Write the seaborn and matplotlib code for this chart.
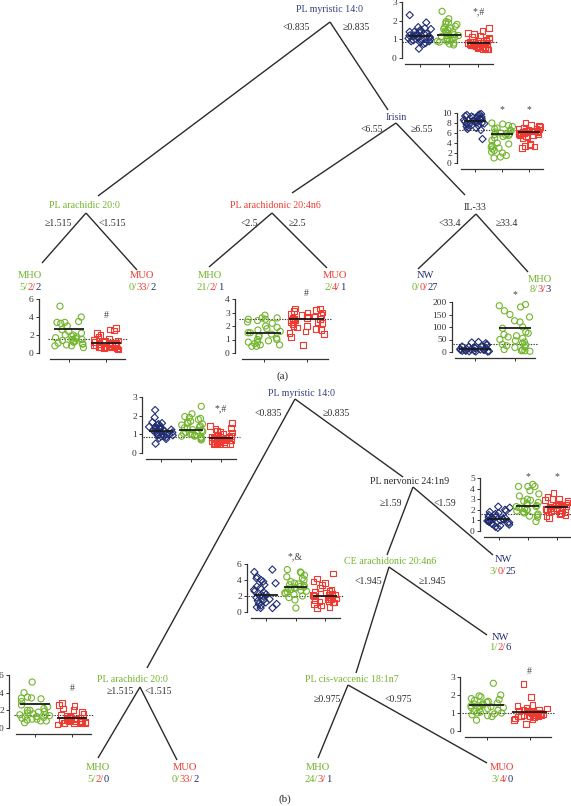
import matplotlib
matplotlib.use("Agg")
import matplotlib.pyplot as plt
import seaborn as sns
import numpy as np
import pandas as pd

sns.set_style("white")
plt.rcParams['font.family'] = ['Liberation Serif', 'DejaVu Serif']

W, H = 571, 806
NAVY = '#1f2c72'
NAVY_TXT = '#33407f'
VERDE = '#72b52c'
VERM = '#ef3a32'
CINZA = '#2b2b2b'

COR = {'NW': NAVY, 'MHO': VERDE, 'MUO': VERM}
MARCA = {'NW': 'D', 'MHO': 'o', 'MUO': 's'}
TAM = {'NW': 3.7, 'MHO': 4.4, 'MUO': 4.1}

# ---- dados dos gráficos de dispersão ----
myr_nw = [2.3, 1.9, 1.65, 1.6, 1.55, 1.5, 1.45, 1.4, 1.4, 1.35, 1.3, 1.3, 1.25, 1.2, 1.2, 1.15, 1.15,
          1.1, 1.1, 1.05, 1.0, 1.0, 0.95, 0.95, 0.9, 0.9, 0.85, 0.8, 0.75, 0.5]
myr_mho = [2.5, 2.1, 1.95, 1.9, 1.85, 1.8, 1.7, 1.65, 1.6, 1.55, 1.5, 1.45, 1.4, 1.35, 1.3, 1.25, 1.2,
           1.2, 1.15, 1.1, 1.05, 1.0, 1.0, 0.95, 0.9, 0.9, 0.85, 0.8, 0.75, 0.7]
myr_muo = [1.6, 1.45, 1.35, 1.3, 1.2, 1.15, 1.1, 1.0, 0.95, 0.9, 0.9, 0.85, 0.85, 0.8, 0.8, 0.8, 0.75,
           0.75, 0.7, 0.7, 0.7, 0.65, 0.65, 0.6, 0.6, 0.6, 0.55, 0.55, 0.5, 0.5, 0.45, 0.45, 0.8, 0.75,
           0.7, 0.65]
myr_media = [1.2, 1.25, 0.8]

iri_nw = [9.8, 9.7, 9.6, 9.5, 9.4, 9.3, 9.2, 9.1, 9.0, 8.9, 8.8, 8.7, 8.6, 8.5, 8.4, 8.3, 8.2, 8.1,
          8.0, 7.9, 7.8, 7.6, 7.5, 7.3, 7.1, 7.0, 6.8, 6.6, 4.8]
iri_mho = [8.0, 7.8, 7.5, 7.3, 7.0, 6.8, 6.6, 6.4, 6.2, 6.0, 5.9, 5.8, 5.7, 5.6, 5.5, 5.3, 5.0, 4.5,
           4.0, 3.8, 3.5, 3.2, 3.0, 2.8, 2.5, 2.2, 2.0, 1.5, 1.2, 1.0]
iri_muo = [8.0, 7.6, 7.4, 7.2, 7.0, 6.9, 6.8, 6.7, 6.6, 6.5, 6.4, 6.3, 6.2, 6.1, 6.0, 6.0, 5.9, 5.8,
           5.7, 5.6, 5.5, 5.4, 5.2, 5.0, 3.8, 3.6, 3.4, 3.3, 3.0, 6.3, 6.5, 6.1]
iri_media = [8.5, 5.8, 6.2]

ara_mho = [5.2, 4.0, 3.5, 3.4, 3.4, 3.3, 3.0, 2.6, 2.4, 2.2, 2.0, 2.0, 1.9, 1.8, 1.7, 1.6, 1.5, 1.5,
           1.4, 1.3, 1.3, 1.2, 1.1, 1.0, 1.0, 0.9, 0.8, 0.8, 0.6]
ara_muo = [2.8, 2.6, 2.5, 2.2, 2.0, 1.8, 1.6, 1.5, 1.4, 1.3, 1.2, 1.2, 1.1, 1.1, 1.0, 1.0, 0.9, 0.9,
           0.8, 0.8, 0.7, 0.7, 0.6, 0.6, 0.5, 0.5, 0.4, 1.0, 0.9, 0.8, 0.7, 0.6]
ara_media = [2.7, 1.1]

arn_mho = [2.8, 2.6, 2.6, 2.5, 2.5, 2.4, 2.3, 2.2, 2.0, 1.9, 1.8, 1.7, 1.6, 1.5, 1.5, 1.4, 1.3, 1.2,
           1.1, 1.0, 1.0, 0.9, 0.8, 0.8, 0.7, 0.6, 0.6, 0.5, 0.5]
arn_muo = [3.3, 3.3, 3.2, 3.1, 3.0, 3.0, 2.9, 2.8, 2.8, 2.7, 2.6, 2.6, 2.5, 2.5, 2.4, 2.4, 2.3, 2.2,
           2.1, 2.0, 2.0, 1.9, 1.8, 1.7, 1.6, 1.5, 1.4, 1.2, 0.6, 2.7, 2.5, 2.3]
arn_media = [1.5, 2.5]

il_nw = [40, 38, 35, 30, 28, 25, 22, 20, 18, 15, 15, 12, 10, 10, 8, 8, 5, 5, 5, 3, 3, 2, 2, 12, 10, 8]
il_mho = [190, 185, 180, 165, 150, 140, 125, 120, 100, 95, 80, 75, 70, 65, 60, 55, 50, 45, 40, 35,
          30, 28, 25, 20, 18, 10, 8, 5, 5, 3]
il_media = [12, 95]

ner_nw = [2.3, 2.2, 2.0, 1.9, 1.8, 1.7, 1.6, 1.5, 1.4, 1.3, 1.25, 1.2, 1.15, 1.1, 1.0, 1.0, 0.95, 0.9,
          0.85, 0.8, 0.75, 0.7, 0.65, 0.6, 0.5, 0.4, 0.3, 1.1, 1.0]
ner_mho = [4.4, 4.2, 4.2, 4.2, 3.8, 3.5, 3.3, 3.0, 2.9, 2.8, 2.7, 2.6, 2.5, 2.4, 2.3, 2.3, 2.2, 2.1,
           2.0, 2.0, 1.9, 1.8, 1.7, 1.6, 1.5, 1.4, 1.3, 0.9]
ner_muo = [3.6, 3.2, 3.0, 3.0, 2.9, 2.8, 2.7, 2.6, 2.6, 2.5, 2.5, 2.4, 2.4, 2.3, 2.3, 2.2, 2.2, 2.1,
           2.0, 2.0, 1.9, 1.8, 1.7, 1.6, 1.5, 1.4, 1.2, 2.5, 2.3, 2.1]
ner_media = [1.1, 2.4, 2.3]

ce_nw = [5.3, 5.0, 4.4, 4.2, 4.0, 3.8, 3.6, 3.4, 3.2, 3.0, 2.8, 2.6, 2.4, 2.2, 2.0, 2.0, 1.8, 1.6,
         1.5, 1.4, 1.2, 1.0, 0.8, 0.6, 0.5, 0.5, 1.0, 1.5]
ce_mho = [5.3, 5.0, 4.9, 4.6, 4.4, 4.2, 4.0, 3.8, 3.6, 3.5, 3.4, 3.3, 3.2, 3.1, 3.0, 3.0, 2.9, 2.8,
          2.7, 2.6, 2.5, 2.4, 2.3, 2.2, 2.0, 1.8, 1.5, 0.5]
ce_muo = [4.8, 4.2, 3.8, 3.6, 3.4, 3.0, 2.8, 2.6, 2.5, 2.4, 2.3, 2.2, 2.1, 2.0, 2.0, 1.9, 1.8, 1.7,
          1.6, 1.5, 1.4, 1.3, 1.2, 1.0, 0.8, 0.6, 0.5, 2.2, 1.9, 1.6, 1.2]
ce_media = [2.1, 3.1, 2.0]

cv_mho = [2.65, 2.0, 1.95, 1.9, 1.8, 1.75, 1.7, 1.65, 1.6, 1.55, 1.5, 1.5, 1.45, 1.4, 1.4, 1.35, 1.3,
          1.3, 1.25, 1.2, 1.15, 1.1, 1.05, 1.0, 1.0, 0.95, 0.9, 0.85, 0.8, 0.6]
cv_muo = [2.6, 1.9, 1.45, 1.4, 1.3, 1.25, 1.2, 1.15, 1.1, 1.1, 1.05, 1.05, 1.0, 1.0, 1.0, 0.95, 0.95,
          0.9, 0.9, 0.85, 0.85, 0.8, 0.8, 0.75, 0.7, 0.65, 0.6, 0.4, 1.0, 0.9]
cv_media = [1.45, 1.05]

# ---- árvore: textos dos nós, limiares e folhas ----
nos_texto = ["PL myristic 14:0", "PL arachidic 20:0", "Irisin", "PL arachidonic 20:4n6", "IL-33",
             "PL myristic 14:0", "PL arachidic 20:0", "PL nervonic 24:1n9", "CE arachidonic 20:4n6",
             "PL cis-vaccenic 18:1n7"]
nos_cor = [NAVY_TXT, VERDE, NAVY_TXT, VERM, CINZA, NAVY_TXT, VERDE, CINZA, VERDE, VERDE]
limiares = ["<0.835", "≥0.835", "≥1.515", "<1.515", "<6.55", "≥6.55", "<2.5", "≥2.5", "<33.4", "≥33.4",
            "<0.835", "≥0.835", "≥1.515", "<1.515", "≥1.59", "<1.59", "<1.945", "≥1.945", "≥0.975", "<0.975"]
folhas_classe = ["MHO", "MUO", "MHO", "MUO", "NW", "MHO",
                 "MHO", "MUO", "NW", "NW", "MHO", "MUO"]
folhas_contagem = [[5, 2, 2], [0, 33, 2], [21, 2, 1], [2, 4, 1], [0, 0, 27], [8, 3, 3],
                   [5, 2, 0], [0, 33, 2], [3, 0, 25], [1, 2, 6], [24, 3, 1], [3, 4, 0]]

# posições (pixels da figura)
pos_nos = [(330, 10), (84, 206), (396, 117), (275, 206), (475, 207),
           (301, 393), (132, 680), (410, 481), (390, 561), (352, 679)]
pos_limiares = [(296, 28), (356, 28), (58, 224), (112, 224), (372, 129), (422, 129), (249, 224), (297, 224),
                (450, 224), (507, 224), (268, 413), (336, 413), (120, 691), (158, 691), (391, 503),
                (445, 503), (368, 582), (432, 582), (327, 700), (398, 700)]
pos_folhas = [(30, 276), (142, 276), (210, 276), (335, 276), (425, 276), (540, 279),
              (98, 768), (185, 768), (503, 560), (500, 637), (318, 768), (502, 768)]
ramos = [((330, 22), (98, 196)), ((330, 22), (388, 110)), ((86, 213), (42, 263)), ((86, 213), (137, 270)),
         ((396, 123), (292, 193)), ((396, 123), (465, 195)), ((272, 213), (209, 267)),
         ((272, 213), (327, 268)), ((476, 214), (418, 269)), ((476, 214), (528, 272)),
         ((295, 399), (147, 668)), ((295, 399), (403, 477)), ((140, 687), (98, 758)),
         ((140, 687), (177, 760)), ((413, 487), (387, 555)), ((413, 487), (493, 555)),
         ((389, 567), (356, 673)), ((389, 567), (487, 635)), ((348, 685), (318, 758)),
         ((348, 685), (487, 763))]

fig = plt.figure(figsize=(W / 100, H / 100), dpi=100)
arvore = fig.add_axes([0, 0, 1, 1])
arvore.set_xlim(0, W)
arvore.set_ylim(H, 0)
arvore.axis('off')

for (x0, y0), (x1, y1) in ramos:
    arvore.plot([x0, x1], [y0, y1], color=CINZA, lw=1.0, solid_capstyle='butt')

for t, c, (x, y) in zip(nos_texto, nos_cor, pos_nos):
    arvore.text(x, y, t, color=c, fontsize=7.2, ha='center', va='center')

for t, (x, y) in zip(limiares, pos_limiares):
    arvore.text(x, y, t, color=CINZA, fontsize=7, ha='center', va='center')

renderer = fig.canvas.get_renderer()


def texto_cores(x, y, partes, tam):
    objs = [arvore.text(0, y, s, color=c, fontsize=tam, ha='left', va='center') for s, c in partes]
    larg = [o.get_window_extent(renderer).width for o in objs]
    xi = x - sum(larg) / 2
    for o, w in zip(objs, larg):
        o.set_x(xi)
        xi += w


for classe, cont, (x, y) in zip(folhas_classe, folhas_contagem, pos_folhas):
    arvore.text(x, y, classe, color=COR[classe], fontsize=7.6, ha='center', va='center')
    partes = [(f"{cont[0]}/", VERDE), (f"{cont[1]}/", VERM), (f"{cont[2]}", NAVY)]
    texto_cores(x, y + 11, partes, 7.6)

arvore.text(283, 376, "(a)", color=CINZA, fontsize=8, ha='center', va='center')
arvore.text(285, 799, "(b)", color=CINZA, fontsize=8, ha='center', va='center')

# ---- gráficos de dispersão ----
np.random.seed(7)


def dispersao(caixa, desloc, grupos, valores, medias, limiar, ymax, ticks, notas):
    x0, x1, yt, yb = caixa
    ax = fig.add_axes([x0 / W, 1 - yb / H, (x1 - x0) / W, (yb - yt) / H])
    df = pd.DataFrame({'grupo': np.repeat(grupos, [len(v) for v in valores]),
                       'valor': np.concatenate(valores)})
    for g in grupos:
        antes = len(ax.collections)
        sns.stripplot(data=df[df['grupo'] == g], x='grupo', y='valor', order=grupos, ax=ax,
                      jitter=0.4, marker=MARCA[g], size=TAM[g], color=COR[g],
                      edgecolor=COR[g], linewidth=0.8, zorder=2)
        for pts in ax.collections[antes:]:
            # seaborn deixa coleções vazias para as outras categorias
            if len(pts.get_offsets()) == 0:
                pts.set_visible(False)
                continue
            pts.set_facecolor('none')
            pts.set_edgecolor(COR[g])
            pts.set_clip_on(False)
    n = len(grupos)
    pos = np.arange(n)
    ax.hlines(medias, pos - 0.4, pos + 0.4, color='#1a1a1a', lw=1.3, zorder=3)
    ax.axhline(limiar, xmin=-0.03, xmax=1.04, color='#333333', lw=0.8, ls=(0, (1.2, 1.2)),
               zorder=1, clip_on=False)
    for i, t, yv in notas:
        ax.text(i, yv, t, ha='center', va='center', fontsize=7, color='#444444', clip_on=False)
    ax.set_xlim(-0.5, n - 0.5)
    ax.set_ylim(0, ymax)
    ax.set_yticks(ticks)
    ax.set_yticklabels([str(t) for t in ticks])
    ax.set_xticks(pos)
    ax.set_xticklabels([])
    ax.set_xlabel('')
    ax.set_ylabel('')
    ax.patch.set_alpha(0)
    sns.despine(ax=ax, offset={'left': desloc * 0.72, 'bottom': 4})
    ax.spines['left'].set_bounds(0, ymax)
    for s in ['left', 'bottom']:
        ax.spines[s].set_linewidth(0.9)
        ax.spines[s].set_color('#333333')
    ax.tick_params(axis='y', labelsize=6.8, length=2.2, width=0.7, pad=1.5, colors='#333333', left=True)
    ax.tick_params(axis='x', length=2.2, width=0.7, colors='#333333', bottom=True)
    return ax


trio = ['NW', 'MHO', 'MUO']
dispersao((405, 493, 2, 58), 3, trio, [myr_nw, myr_mho, myr_muo], myr_media, 0.835, 3,
          [0, 1, 2, 3], [(2, '*,#', 2.45)])
dispersao((461, 543, 113, 163), 4, trio, [iri_nw, iri_mho, iri_muo], iri_media, 6.55, 10,
          [0, 2, 4, 6, 8, 10], [(1, '*', 10.7), (2, '*', 10.7)])
dispersao((50, 125, 299, 353), 11, ['MHO', 'MUO'], [ara_mho, ara_muo], ara_media, 1.515, 6,
          [0, 2, 4, 6], [(1, '#', 4.2)])
dispersao((242, 328, 299, 353), 7, ['MHO', 'MUO'], [arn_mho, arn_muo], arn_media, 2.5, 4,
          [0, 1, 2, 3, 4], [(1, '#', 4.4)])
dispersao((455, 535, 302, 352), 3, ['NW', 'MHO'], [il_nw, il_mho], il_media, 33.4, 200,
          [0, 50, 100, 150, 200], [(1, '*', 228)])
dispersao((146, 236, 397, 453), 4, trio, [myr_nw, myr_mho, myr_muo], myr_media, 0.835, 3,
          [0, 1, 2, 3], [(2, '*,#', 2.35)])
dispersao((484, 571, 478, 531), 4, trio, [ner_nw, ner_mho, ner_muo], ner_media, 1.59, 5,
          [0, 1, 2, 3, 4, 5], [(1, '*', 5.1), (2, '*', 5.1)])
dispersao((251, 340, 564, 612), 4, trio, [ce_nw, ce_mho, ce_muo], ce_media, 1.945, 6,
          [0, 2, 4, 6], [(1, '*,&', 6.9)])
dispersao((16, 91, 675, 728), 7, ['MHO', 'MUO'], [ara_mho, ara_muo], ara_media, 1.515, 6,
          [0, 2, 4, 6], [(1, '#', 4.5)])
dispersao((465, 551, 677, 731), 5, ['MHO', 'MUO'], [cv_mho, cv_muo], cv_media, 0.975, 3,
          [0, 1, 2, 3], [(1, '#', 3.3)])

fig.savefig("out.png", dpi=100)
